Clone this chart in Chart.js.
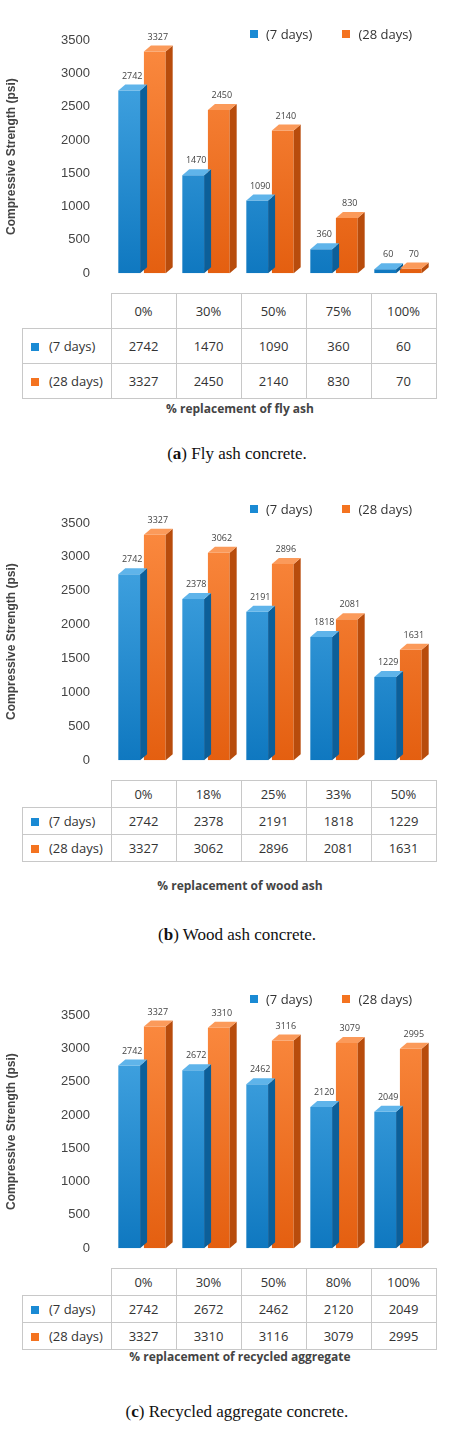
<!DOCTYPE html>
<html>
<head>
<meta charset="utf-8">
<script src="https://cdn.jsdelivr.net/npm/chart.js@4.4.0/dist/chart.umd.min.js"></script>
<style>
  body { margin: 0; background: #fff; font-family: "Open Sans", Arial, sans-serif; }
  #page { position: relative; width: 474px; height: 1452px; }
  .panel { position: absolute; left: 0; width: 474px; }
  .legend { position: absolute; font-size: 13px; color: #333; }
  .legend span.sq { display: inline-block; width: 8px; height: 8px; margin-right: 8px; vertical-align: 1px; }
  table { position: absolute; border-collapse: collapse; font-size: 13px; color: #333; }
  td { border: 1px solid #c8c8c8; text-align: center; padding: 0; }
  .xtitle { position: absolute; font-size: 12px; font-weight: bold; color: #444; width: 474px; text-align: center; }
  .caption { position: absolute; width: 474px; text-align: center; font-family: "Liberation Serif", serif; font-size: 17px; color: #111; }
</style>
</head>
<body>
<div id="page"></div>
<script>
// panel (a) fly ash
const flyCats = ['0%', '30%', '50%', '75%', '100%'];
const fly7 = [2742, 1470, 1090, 360, 60];
const fly28 = [3327, 2450, 2140, 830, 70];
// panel (b) wood ash
const woodCats = ['0%', '18%', '25%', '33%', '50%'];
const wood7 = [2742, 2378, 2191, 1818, 1229];
const wood28 = [3327, 3062, 2896, 2081, 1631];
// panel (c) recycled aggregate
const recCats = ['0%', '30%', '50%', '80%', '100%'];
const rec7 = [2742, 2672, 2462, 2120, 2049];
const rec28 = [3327, 3310, 3116, 3079, 2995];
const yTicks = [0, 500, 1000, 1500, 2000, 2500, 3000, 3500];

const BLUE = '#1a8ad4', ORANGE = '#f47320';

// fake 3D: side + top faces and value labels
const bars3d = {
  id: 'bars3d',
  afterDatasetsDraw(chart) {
    const ctx = chart.ctx;
    const dx = 7, dy = -6;
    chart.data.datasets.forEach((ds, di) => {
      chart.getDatasetMeta(di).data.forEach((bar, i) => {
        const l = bar.x - bar.width / 2, r = bar.x + bar.width / 2;
        const t = bar.y, b = bar.base;
        ctx.save();
        ctx.fillStyle = ds.sideColor;
        ctx.beginPath();
        ctx.moveTo(r, t); ctx.lineTo(r + dx, t + dy); ctx.lineTo(r + dx, b + dy); ctx.lineTo(r, b);
        ctx.fill();
        ctx.fillStyle = ds.topColor;
        ctx.beginPath();
        ctx.moveTo(l, t); ctx.lineTo(l + dx, t + dy); ctx.lineTo(r + dx, t + dy); ctx.lineTo(r, t);
        ctx.fill();
        ctx.fillStyle = '#444';
        ctx.font = '9px "Open Sans", sans-serif';
        ctx.textAlign = 'center';
        ctx.fillText(ds.data[i], bar.x + 3, t - 12);
        ctx.restore();
      });
    });
  }
};

function grad(chart, c1, c2) {
  const a = chart.chartArea;
  if (!a) return c1;
  const g = chart.ctx.createLinearGradient(0, a.bottom, 0, a.top);
  g.addColorStop(0, c1); g.addColorStop(1, c2);
  return g;
}

function makePanel(top, padTop, height, cats, d7, d28, rowY, xTitle, xTitleY, caption, captionY, legendY) {
  const page = document.getElementById('page');
  const div = document.createElement('div');
  div.className = 'panel';
  div.style.top = top + 'px';
  div.style.height = height + 'px';
  const cv = document.createElement('canvas');
  div.appendChild(cv);
  page.appendChild(div);

  new Chart(cv, {
    type: 'bar',
    data: {
      labels: cats,
      datasets: [
        { label: '(7 days)', data: d7, backgroundColor: c => grad(c.chart, '#0f78c0', '#4aaae6'),
          sideColor: '#0c5f99', topColor: '#5fb4ea', categoryPercentage: 0.8, barPercentage: 0.85 },
        { label: '(28 days)', data: d28, backgroundColor: c => grad(c.chart, '#e45f10', '#fb8a40'),
          sideColor: '#b84c0c', topColor: '#fb9a5a', categoryPercentage: 0.8, barPercentage: 0.85 }
      ]
    },
    options: {
      responsive: true, maintainAspectRatio: false, animation: false,
      layout: { padding: { top: padTop, right: 44, left: 0, bottom: 0 } },
      plugins: { legend: { display: false }, tooltip: { enabled: false } },
      scales: {
        x: { display: false, offset: true },
        y: {
          min: 0, max: 3500,
          afterBuildTicks: ax => { ax.ticks = yTicks.map(v => ({ value: v })); },
          afterFit: ax => { ax.width = 110; },
          grid: { display: false }, border: { display: false },
          ticks: { color: '#444', font: { size: 13 }, padding: 12, callback: v => String(v) },
          title: { display: true, text: 'Compressive Strength (psi)', color: '#444', font: { size: 12, weight: 'bold' } }
        }
      }
    },
    plugins: [bars3d]
  });

  // legend
  const lg = document.createElement('div');
  lg.className = 'legend';
  lg.style.left = '250px'; lg.style.top = (legendY - top) + 'px';
  lg.innerHTML = '<span class="sq" style="background:' + BLUE + '"></span>(7 days)' +
    '<span class="sq" style="background:' + ORANGE + ';margin-left:30px"></span>(28 days)';
  div.appendChild(lg);

  // data table
  const tb = document.createElement('table');
  tb.style.left = '22px'; tb.style.top = rowY[0] + 'px';
  const rowH = rowY[1];
  let html = '<tr style="height:' + rowH + 'px"><td style="width:88px;border-top:none;border-left:none"></td>' +
    cats.map(c => '<td style="width:64px">' + c + '</td>').join('') + '</tr>';
  [[d7, BLUE, '(7 days)'], [d28, ORANGE, '(28 days)']].forEach(r => {
    html += '<tr style="height:' + rowH + 'px"><td style="text-align:left;padding-left:8px">' +
      '<span style="display:inline-block;width:8px;height:8px;background:' + r[1] + ';margin-right:10px"></span>' + r[2] + '</td>' +
      r[0].map(v => '<td>' + v + '</td>').join('') + '</tr>';
  });
  tb.innerHTML = html;
  page.appendChild(tb);

  const xt = document.createElement('div');
  xt.className = 'xtitle';
  xt.style.left = '60px'; xt.style.width = '360px';
  xt.style.top = (xTitleY - 8) + 'px';
  xt.textContent = xTitle;
  page.appendChild(xt);

  const cp = document.createElement('div');
  cp.className = 'caption';
  cp.style.top = (captionY - 11) + 'px';
  cp.innerHTML = caption;
  page.appendChild(cp);
}

makePanel(0, 40, 293, flyCats, fly7, fly28, [293, 35], '% replacement of fly ash', 408,
  '(<b>a</b>) Fly ash concrete.', 455, 25);
makePanel(480, 43, 300, woodCats, wood7, wood28, [780, 27], '% replacement of wood ash', 885,
  '(<b>b</b>) Wood ash concrete.', 936, 500);
makePanel(970, 45, 298, recCats, rec7, rec28, [1268, 27], '% replacement of recycled aggregate', 1356,
  '(<b>c</b>) Recycled aggregate concrete.', 1413, 990);
</script>
</body>
</html>
